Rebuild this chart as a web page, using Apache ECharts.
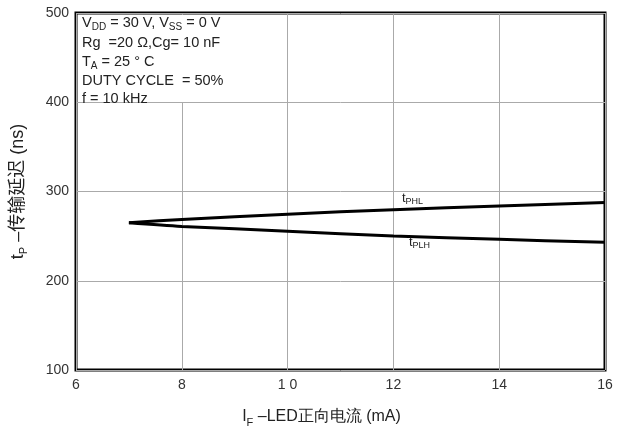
<!DOCTYPE html>
<html><head><meta charset="utf-8">
<script src="https://cdn.jsdelivr.net/npm/echarts@6/dist/echarts.min.js"></script>
<style>html,body{margin:0;padding:0;background:#fff}#c{width:617px;height:437px}</style>
</head><body><div id="c"></div>
<script>
const xValues = [7, 8, 10, 12, 14, 16];
const tPHL = [265, 268.7, 274.6, 279.6, 283.8, 287.7];
const tPLH = [265, 260.9, 255.6, 250.1, 246.4, 243.0];
const xTicks = {6:'6', 8:'8', 10:'1 0', 12:'12', 14:'14', 16:'16'};
const yTicks = [100, 200, 300, 400, 500];

const font = 'Liberation Sans, Arial, sans-serif';
const chart = echarts.init(document.getElementById('c'));
chart.setOption({
  animation: false,
  grid: {left: 76, right: 12, top: 13, bottom: 67, outerBoundsMode: 'none', containLabel: false, show: true, borderColor: '#000', borderWidth: 3, backgroundColor: 'transparent'},
  xAxis: {
    type: 'value', min: 6, max: 16, interval: 2,
    axisLine: {show: false}, axisTick: {show: false},
    splitLine: {show: true, lineStyle: {color: '#aaa', width: 1}},
    axisLabel: {color: '#333', fontSize: 14, fontFamily: font, margin: 8, formatter: v => xTicks[v] || ''},
    name: '{t|I}{s|F}{t| –LED正向电流 (mA)}', nameLocation: 'middle', nameGap: 36,
    nameTextStyle: {padding: [0, 38, 0, 0], rich: {t: {fontSize: 16, color: '#222', fontFamily: font}, s: {fontSize: 11, color: '#222', fontFamily: font, verticalAlign: 'bottom', padding: [11,0,0,0]}}}
  },
  yAxis: {
    type: 'value', min: 100, max: 500, interval: 100,
    axisLine: {show: false}, axisTick: {show: false},
    splitLine: {show: true, lineStyle: {color: '#aaa', width: 1}},
    axisLabel: {color: '#333', fontSize: 14, fontFamily: font, margin: 7},
    name: '{t|t}{s|P}{t| –传输延迟 (ns)}', nameLocation: 'middle', nameGap: 47, nameRotate: 90,
    nameTextStyle: {rich: {t: {fontSize: 18, color: '#222', fontFamily: 'Liberation Sans, Noto Sans CJK SC, sans-serif'}, s: {fontSize: 11, color: '#222', fontFamily: font, verticalAlign: 'bottom', padding: [11,0,0,0]}}}
  },
  series: [
    {type: 'line', data: xValues.map((x,i)=>[x,tPHL[i]]), showSymbol: false, smooth: 0.3, lineStyle: {color: '#000', width: 3}, z: 5},
    {type: 'line', data: xValues.map((x,i)=>[x,tPLH[i]]), showSymbol: false, smooth: 0.3, lineStyle: {color: '#000', width: 3}, z: 5}
  ],
  graphic: [
    {type: 'rect', shape: {x: 78, y: 15, width: 150, height: 87}, style: {fill: '#fff'}, z: 10},
    {type: 'text', left: 82, top: 13, z: 11, style: {
      text: '{t|V}{s|DD}{t| = 30 V, V}{s|SS}{t| = 0 V}\n{t|Rg  =20 Ω,Cg= 10 nF}\n{u|T}{s|A}{u| = 25 ° C}\n{t|DUTY CYCLE  = 50%}\n{v|f = 10 kHz}',
      rich: {t: {fontSize: 14.5, fontFamily: font, fill: '#222', lineHeight: 20}, u: {fontSize: 14.5, fontFamily: font, fill: '#222', lineHeight: 18}, v: {fontSize: 14.5, fontFamily: font, fill: '#222', lineHeight: 17}, s: {fontSize: 10, fontFamily: font, fill: '#222', lineHeight: 18, padding: [9,0,0,0]}}
    }},
    {type: 'text', left: 402, top: 192, z: 11, style: {text: '{t|t}{s|PHL}', rich: {t: {fontSize: 13, fontFamily: font, fill: '#222'}, s: {fontSize: 9, fontFamily: font, fill: '#222', padding: [7,0,0,0]}}}},
    {type: 'text', left: 409, top: 236, z: 11, style: {text: '{t|t}{s|PLH}', rich: {t: {fontSize: 13, fontFamily: font, fill: '#222'}, s: {fontSize: 9, fontFamily: font, fill: '#222', padding: [7,0,0,0]}}}}
  ]
});
</script></body></html>
